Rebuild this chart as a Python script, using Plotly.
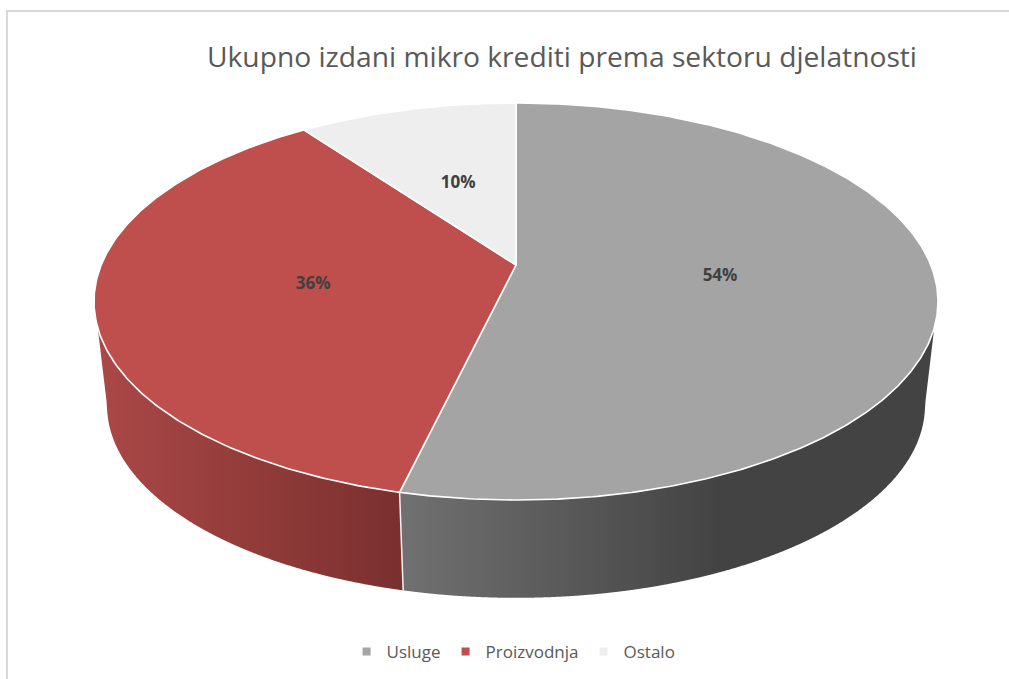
import math
import plotly.graph_objects as go

# Data
categories = ["Usluge", "Proizvodnja", "Ostalo"]
values = [53.7, 36.3, 10.0]
title_text = "Ukupno izdani mikro krediti prema sektoru djelatnosti"

# Styles
face_colors = ["#a4a4a4", "#be4f4c", "#eeeeee"]
text_grey = "#595959"
label_dark = "#404040"
font_family = "Open Sans"

W, H = 1009, 679
CX = 516
KP = 0.184               # perspective strength
TOP_MAP = (265, 414.8, 191.8)   # apex Y, horizontal, vertical scale of the upper disc
LOW_MAP = (370, 402, 185.9)     # same for the lower rim
BAND = 3                 # width of a gradient band on the wall


def project(theta_deg, r, m):
    y0, a, b = m
    t = math.radians(theta_deg)
    px, py = r * math.sin(t), r * math.cos(t)
    d = 1 + KP * py
    return CX + a * px / d, y0 - b * py / d


def lerp_color(c0, c1, f):
    f = max(0.0, min(1.0, f))
    return "rgb(%d,%d,%d)" % tuple(round(p + (q - p) * f) for p, q in zip(c0, c1))


def interp(poly, x):
    for (x0, y0), (x1, y1) in zip(poly, poly[1:]):
        if x0 <= x <= x1:
            if x1 == x0:
                return y1
            return y0 + (y1 - y0) * (x - x0) / (x1 - x0)
    return poly[-1][1] if x > poly[-1][0] else poly[0][1]


def arc(a0, a1, m, n=200):
    return [project(a0 + (a1 - a0) * i / n, 1, m) for i in range(n + 1)]


total = sum(values)
angles = [0.0]
for v in values:
    angles.append(angles[-1] + 360.0 * v / total)

fig = go.Figure()


def wall(top_pts, bottom_pts, c0, c1, x0, x1):
    """Wall between two rim polylines, cut into pixel-aligned vertical gradient bands."""
    top, bottom = sorted(top_pts), sorted(bottom_pts)
    xa, xb = top[0][0], top[-1][0]
    x = xa
    while x < xb:
        xn = min((math.floor(x / BAND) + 1) * BAND, xb)
        col = lerp_color(c0, c1, ((x + xn) / 2 - x0) / (x1 - x0))
        steps = [x + (xn - x) * j / 4 for j in range(5)]
        xs = steps + steps[::-1] + [x]
        ys = [interp(top, s) for s in steps] + [interp(bottom, s) for s in steps[::-1]] + [interp(top, x)]
        fig.add_trace(go.Scatter(x=xs, y=ys, mode="none", fill="toself", fillcolor=col,
                                 hoverinfo="skip", showlegend=False))
        x = xn


# Visible side walls, from the values' boundary angle out to the silhouette
cut_top = project(angles[1], 1, TOP_MAP)
cut_low = project(angles[1], 1, LOW_MAP)
wall(arc(angles[1], 251.95, TOP_MAP) + [cut_low],
     arc(angles[1], 259.4, LOW_MAP) + [project(251.95, 1, TOP_MAP)],
     (122, 48, 47), (170, 72, 70), 400, 100)
wall(arc(108.05, angles[1], TOP_MAP),
     arc(100.6, angles[1], LOW_MAP) + [cut_top, project(108.05, 1, TOP_MAP)],
     (67, 67, 67), (112, 112, 112), 720, 405)

# Boundary between the two walls
fig.add_trace(go.Scatter(x=[cut_top[0], cut_low[0]], y=[cut_top[1], cut_low[1]], mode="lines",
                         line=dict(color="#f2f2f2", width=1.5),
                         hoverinfo="skip", showlegend=False))

# Top faces
for i, name in enumerate(categories):
    a0, a1 = angles[i], angles[i + 1]
    n = max(4, int((a1 - a0) * 2))
    pts = [project(a0 + (a1 - a0) * j / n, 1, TOP_MAP) for j in range(n + 1)]
    apex = project(0, 0, TOP_MAP)
    xs = [apex[0]] + [p[0] for p in pts] + [apex[0]]
    ys = [apex[1]] + [p[1] for p in pts] + [apex[1]]
    fig.add_trace(go.Scatter(x=xs, y=ys, mode="lines", fill="toself",
                             fillcolor=face_colors[i],
                             line=dict(color="white", width=1.6),
                             hoverinfo="skip", showlegend=False))

# Data labels
lab = [project((angles[i] + angles[i + 1]) / 2, 0.49, TOP_MAP) for i in range(3)]
fig.add_trace(go.Scatter(
    x=[p[0] for p in lab], y=[p[1] + 1 for p in lab], mode="text",
    text=["%d%%" % round(v / total * 100) for v in values],
    textfont=dict(family=font_family, size=17, color=label_dark, weight="bold"),
    hoverinfo="skip", showlegend=False))

# Legend entries
for name, col in zip(categories, face_colors):
    fig.add_trace(go.Scatter(x=[None], y=[None], mode="markers", name=name,
                             marker=dict(symbol="square", size=8, color=col)))

fig.update_layout(
    width=W, height=H,
    margin=dict(l=0, r=0, t=0, b=0),
    paper_bgcolor="white", plot_bgcolor="white",
    xaxis=dict(range=[0, W], visible=False, fixedrange=True),
    yaxis=dict(range=[H, 0], visible=False, fixedrange=True),
    title=dict(text=title_text, x=0.557, xanchor="center", y=0.916, yanchor="middle",
               font=dict(family=font_family, size=28.2, color=text_grey)),
    legend=dict(orientation="h", x=0.509, xanchor="center", y=0.04, yanchor="middle",
                font=dict(family=font_family, size=17, color=text_grey),
                itemclick=False, itemdoubleclick=False),
    shapes=[
        dict(type="line", xref="paper", yref="paper", x0=7 / W, x1=7 / W, y0=0, y1=1 - 11 / H,
             line=dict(color="#d9d9d9", width=2)),
        dict(type="line", xref="paper", yref="paper", x0=6 / W, x1=1, y0=1 - 11 / H, y1=1 - 11 / H,
             line=dict(color="#d9d9d9", width=2)),
    ],
)

fig.write_html("out.html", config=dict(displayModeBar=False),
               post_script="document.body.style.margin='0';document.body.style.overflow='hidden';")
